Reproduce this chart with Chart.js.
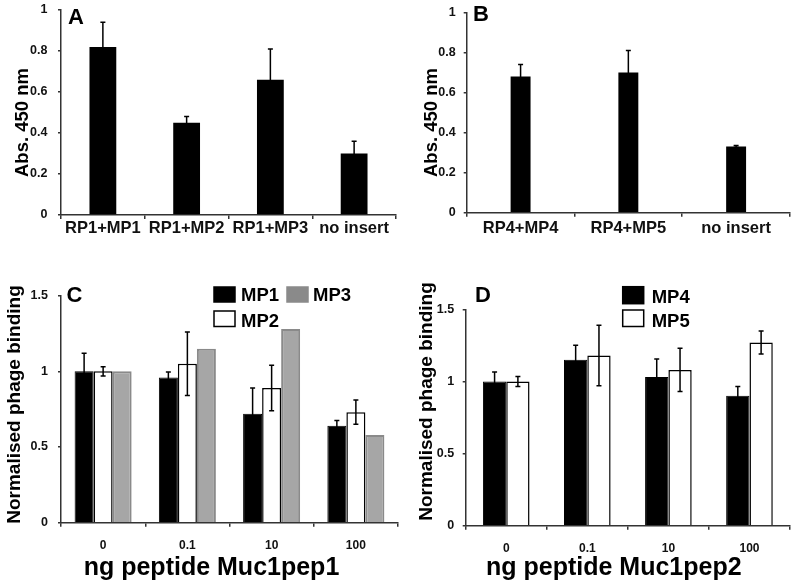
<!DOCTYPE html>
<html>
<head>
<meta charset="utf-8">
<script src="https://cdn.jsdelivr.net/npm/chart.js@4"></script>
<style>
  body { margin: 0; background: #fff; }
  #fig { position: relative; width: 797px; height: 588px; }
  canvas { position: absolute; }
</style>
</head>
<body>
<div id="fig">
  <canvas id="chartA" width="400" height="276" style="left:0;top:0"></canvas>
  <canvas id="chartB" width="397" height="276" style="left:400px;top:0"></canvas>
  <canvas id="chartC" width="400" height="312" style="left:0;top:276px"></canvas>
  <canvas id="chartD" width="397" height="312" style="left:400px;top:276px"></canvas>
</div>
<script>
// panel A - absorbance
const catsA = ['RP1+MP1', 'RP1+MP2', 'RP1+MP3', 'no insert'];
const absA = [0.82, 0.45, 0.66, 0.30];
const errA = [0.12, 0.03, 0.15, 0.06];

// panel B - absorbance
const catsB = ['RP4+MP4', 'RP4+MP5', 'no insert'];
const absB = [0.68, 0.70, 0.33];
const errB = [0.06, 0.11, 0.005];

// panels C and D - normalised binding vs ng peptide
const doses = ['0', '0.1', '10', '100'];
const mp1 = [1.0, 0.96, 0.72, 0.64];
const mp1Err = [0.12, 0.035, 0.17, 0.035];
const mp2 = [1.0, 1.05, 0.89, 0.73];
const mp2Err = [0.03, 0.21, 0.15, 0.08];
const mp3 = [1.0, 1.15, 1.28, 0.58];
const mp4 = [1.0, 1.15, 1.03, 0.90];
const mp4Err = [0.065, 0.10, 0.125, 0.065];
const mp5 = [1.0, 1.18, 1.08, 1.27];
const mp5Err = [0.035, 0.21, 0.15, 0.08];

// tick labels
const absTicks = ['0', '0.2', '0.4', '0.6', '0.8', '1'];
const bindTicks = ['0', '0.5', '1', '1.5'];

const FONT = "'Liberation Sans', Arial, sans-serif";
const axisColor = '#333';
Chart.defaults.font.family = FONT;
Chart.defaults.color = '#111';

// draws the +/- error whiskers on top of the bars
const errorBars = {
  id: 'errorBars',
  afterDatasetsDraw(chart) {
    const ctx = chart.ctx;
    const y = chart.scales.y;
    chart.data.datasets.forEach((ds, di) => {
      if (!ds.errors) return;
      chart.getDatasetMeta(di).data.forEach((bar, i) => {
        const top = y.getPixelForValue(ds.data[i] + ds.errors[i]);
        const bot = y.getPixelForValue(ds.data[i] - ds.errors[i]);
        ctx.save();
        ctx.strokeStyle = '#000';
        ctx.lineWidth = 1.5;
        ctx.beginPath();
        ctx.moveTo(bar.x, top); ctx.lineTo(bar.x, bot);
        ctx.moveTo(bar.x - 2.5, top); ctx.lineTo(bar.x + 2.5, top);
        ctx.moveTo(bar.x - 2.5, bot); ctx.lineTo(bar.x + 2.5, bot);
        ctx.stroke();
        ctx.restore();
      });
    });
  }
};

// panel letters, axis titles and the little legends
function panelText(items, legend) {
  return {
    id: 'panelText',
    afterDraw(chart) {
      const ctx = chart.ctx;
      items.forEach(t => {
        ctx.save();
        ctx.font = t.font;
        ctx.fillStyle = '#000';
        ctx.textAlign = t.align || 'left';
        ctx.textBaseline = t.baseline || 'alphabetic';
        ctx.translate(t.x, t.y);
        if (t.rot) ctx.rotate(t.rot);
        ctx.fillText(t.text, 0, 0);
        ctx.restore();
      });
      (legend || []).forEach(l => {
        const ds = chart.data.datasets[l.ds];
        ctx.save();
        ctx.fillStyle = l.fill || ds.backgroundColor;
        ctx.fillRect(l.x, l.y, l.w, l.h);
        ctx.strokeStyle = l.stroke || '#000';
        ctx.lineWidth = 1.5;
        ctx.strokeRect(l.x, l.y, l.w, l.h);
        ctx.font = 'bold 18.5px ' + FONT;
        ctx.fillStyle = '#000';
        ctx.fillText(ds.label, l.tx, l.ty);
        ctx.restore();
      });
    }
  };
}

function baseOptions(p) {
  return {
    responsive: false,
    animation: false,
    devicePixelRatio: 1,
    layout: { padding: p.padding },
    plugins: { legend: { display: false }, tooltip: { enabled: false } },
    scales: {
      x: {
        grid: { drawOnChartArea: false, drawTicks: true, tickLength: 4, color: axisColor, lineWidth: 1.5 },
        border: { color: axisColor, width: 1.5 },
        ticks: { font: { size: p.xFont, weight: 'bold' }, padding: p.xPad, maxRotation: 0, autoSkip: false },
        afterFit: s => { s.height = p.xHeight; s.paddingLeft = 0; s.paddingRight = 0; }
      },
      y: {
        min: 0,
        max: p.max,
        grid: { drawOnChartArea: false, drawTicks: true, tickLength: 3, color: axisColor, lineWidth: 1.5 },
        border: { color: axisColor, width: 1.5 },
        ticks: { stepSize: p.step, font: { size: 12.5, weight: 'bold' }, padding: p.yPad,
                 callback: (v, i) => p.yTicks[i] },
        afterFit: s => { s.width = p.yWidth; s.paddingTop = 0; s.paddingBottom = 0; }
      }
    }
  };
}

const letterFont = 'bold 22px ' + FONT;
const absTitleFont = 'bold 18.5px ' + FONT;
const bindTitleFont = 'bold 19px ' + FONT;
const xTitleFont = 'bold 25px ' + FONT;

new Chart(document.getElementById('chartA'), {
  type: 'bar',
  data: {
    labels: catsA,
    datasets: [{ label: 'Abs', data: absA, errors: errA, backgroundColor: '#000',
                 barPercentage: 0.32, categoryPercentage: 1 }]
  },
  options: baseOptions({ padding: { left: 0, top: 10, right: 4, bottom: 0 }, yWidth: 61, xHeight: 61,
                         max: 1, step: 0.2, yTicks: absTicks, yPad: 10.5, xFont: 16.5, xPad: 0 }),
  plugins: [errorBars, panelText([
    { text: 'A', x: 68, y: 23.5, font: letterFont },
    { text: 'Abs. 450 nm', x: 22.5, y: 122.5, rot: -Math.PI / 2, align: 'center', baseline: 'middle', font: absTitleFont }
  ])]
});

new Chart(document.getElementById('chartB'), {
  type: 'bar',
  data: {
    labels: catsB,
    datasets: [{ label: 'Abs', data: absB, errors: errB, backgroundColor: '#000',
                 barPercentage: 0.185, categoryPercentage: 1 }]
  },
  options: baseOptions({ padding: { left: 0, top: 12.3, right: 7, bottom: 0 }, yWidth: 66.7, xHeight: 63.3,
                         max: 1, step: 0.2, yTicks: absTicks, yPad: 8, xFont: 16.5, xPad: 2 }),
  plugins: [errorBars, panelText([
    { text: 'B', x: 73, y: 21, font: letterFont },
    { text: 'Abs. 450 nm', x: 31.5, y: 122.5, rot: -Math.PI / 2, align: 'center', baseline: 'middle', font: absTitleFont }
  ])]
});

new Chart(document.getElementById('chartC'), {
  type: 'bar',
  data: {
    labels: doses,
    datasets: [
      { label: 'MP1', data: mp1, errors: mp1Err, backgroundColor: '#000', borderColor: '#000', borderWidth: 1 },
      { label: 'MP2', data: mp2, errors: mp2Err, backgroundColor: '#fff', borderColor: '#000', borderWidth: 1.5 },
      { label: 'MP3', data: mp3, backgroundColor: '#a6a6a6', borderColor: '#8a8a8a', borderWidth: 2 }
    ].map(d => Object.assign(d, { barPercentage: 1, categoryPercentage: 0.677 }))
  },
  options: baseOptions({ padding: { left: 0, top: 19.7, right: 2, bottom: 0 }, yWidth: 61, xHeight: 65.3,
                         max: 1.5, step: 0.5, yTicks: bindTicks, yPad: 10, xFont: 12, xPad: 12 }),
  plugins: [errorBars, panelText([
    { text: 'C', x: 66.5, y: 26, font: letterFont },
    { text: 'Normalised phage binding', x: 15, y: 128.5, rot: -Math.PI / 2, align: 'center', baseline: 'middle', font: bindTitleFont },
    { text: 'ng peptide Muc1pep1', x: 211.5, y: 299, align: 'center', font: xTitleFont }
  ], [
    { ds: 0, x: 214, y: 11, w: 21, h: 15, tx: 241, ty: 25 },
    { ds: 2, x: 287, y: 11, w: 21, h: 15, tx: 313, ty: 25, fill: '#8a8a8a', stroke: '#8a8a8a' },
    { ds: 1, x: 214, y: 35, w: 21, h: 15.5, tx: 241, ty: 50.5 }
  ])]
});

new Chart(document.getElementById('chartD'), {
  type: 'bar',
  data: {
    labels: doses,
    datasets: [
      { label: 'MP4', data: mp4, errors: mp4Err, backgroundColor: '#000', borderColor: '#000', borderWidth: 1 },
      { label: 'MP5', data: mp5, errors: mp5Err, backgroundColor: '#fff', borderColor: '#000', borderWidth: 1.5 }
    ].map(d => Object.assign(d, { barPercentage: 1, categoryPercentage: 0.575 }))
  },
  options: baseOptions({ padding: { left: 0, top: 33.3, right: 7, bottom: 0 }, yWidth: 65.7, xHeight: 62.3,
                         max: 1.5, step: 0.5, yTicks: bindTicks, yPad: 8.5, xFont: 12, xPad: 12 }),
  plugins: [errorBars, panelText([
    { text: 'D', x: 75, y: 25.7, font: letterFont },
    { text: 'Normalised phage binding', x: 26.5, y: 125.5, rot: -Math.PI / 2, align: 'center', baseline: 'middle', font: bindTitleFont },
    { text: 'ng peptide Muc1pep2', x: 213.8, y: 299, align: 'center', font: xTitleFont }
  ], [
    { ds: 0, x: 222.7, y: 10.7, w: 21, h: 17, tx: 251.7, ty: 27 },
    { ds: 1, x: 222.7, y: 34, w: 21, h: 16.5, tx: 251.7, ty: 51 }
  ])]
});
</script>
</body>
</html>
